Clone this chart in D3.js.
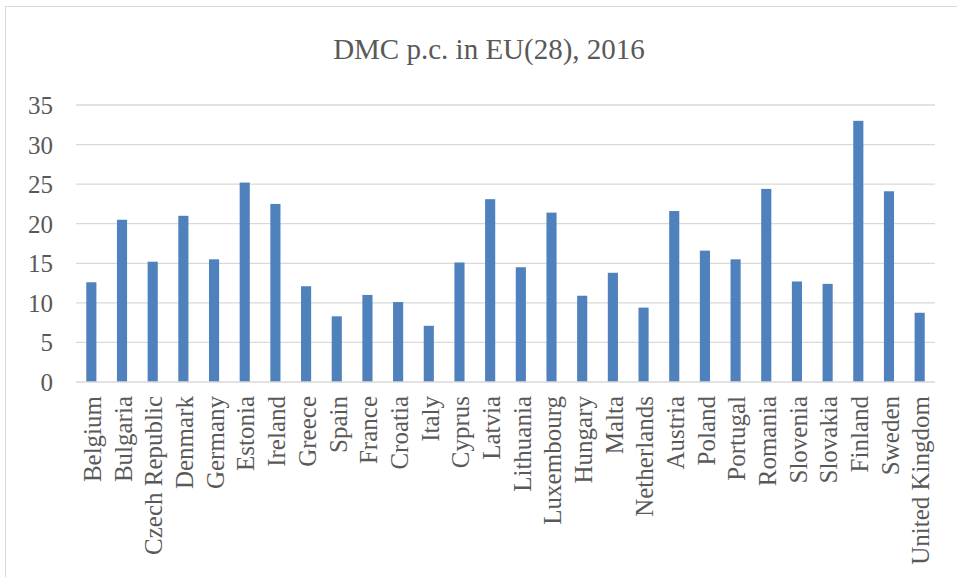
<!DOCTYPE html>
<html><head><meta charset="utf-8">
<script src="https://cdn.jsdelivr.net/npm/d3@7"></script>
<style>body{margin:0;background:#fff;} svg{display:block;}</style>
</head><body><svg id="c" width="957" height="577"></svg>
<script>
const categories = ["Belgium","Bulgaria","Czech Republic","Denmark","Germany","Estonia","Ireland","Greece","Spain","France","Croatia","Italy","Cyprus","Latvia","Lithuania","Luxembourg","Hungary","Malta","Netherlands","Austria","Poland","Portugal","Romania","Slovenia","Slovakia","Finland","Sweden","United Kingdom"];
const values = [12.6,20.5,15.2,21.0,15.5,25.2,22.5,12.1,8.3,11.0,10.1,7.1,15.1,23.1,14.5,21.4,10.9,13.8,9.4,21.6,16.6,15.5,24.4,12.7,12.4,33.0,24.1,8.75];
const yTicks = [0,5,10,15,20,25,30,35];
const title = "DMC p.c. in EU(28), 2016";

const svg = d3.select("#c");
const font = "'Liberation Serif', 'Times New Roman', serif";
const m = {left:76, right:22, top:105, bottom:195};
const W = 957, H = 577;

svg.append("rect").attr("x",5.5).attr("y",6.5).attr("width",W).attr("height",H)
  .attr("fill","#fff").attr("stroke","#d9d9d9").attr("stroke-width",1);

const x = d3.scaleBand().domain(categories).range([m.left, W-m.right]).paddingInner(0.67).paddingOuter(0.335);
const y = d3.scaleLinear().domain([0,35]).range([H-m.bottom, m.top]);

const grid = svg.append("g");
grid.selectAll("line").data(yTicks.filter(d=>d>0)).join("line")
  .attr("x1",m.left).attr("x2",W-m.right)
  .attr("y1",d=>y(d)).attr("y2",d=>y(d))
  .attr("stroke","#d9d9d9").attr("stroke-width",1.3);

svg.append("g").selectAll("rect").data(values).join("rect")
  .attr("x",(d,i)=>x(categories[i]))
  .attr("width",x.bandwidth())
  .attr("y",d=>y(d))
  .attr("height",d=>y(0)-y(d))
  .attr("fill","#4f81bd");

svg.append("line").attr("x1",m.left).attr("x2",W-m.right)
  .attr("y1",y(0)).attr("y2",y(0)).attr("stroke","#d9d9d9").attr("stroke-width",1.3);

const yAxis = svg.append("g").attr("transform",`translate(${m.left-23},0)`)
  .call(d3.axisLeft(y).tickValues(yTicks).tickSize(0).tickPadding(0));
yAxis.select(".domain").remove();
yAxis.selectAll("text").attr("font-family",font).attr("font-size",25).attr("fill","#595959").attr("dy","0.34em");

const xAxis = svg.append("g").attr("transform",`translate(0,${y(0)})`)
  .call(d3.axisBottom(x).tickSize(0).tickPadding(0));
xAxis.select(".domain").remove();
xAxis.selectAll("text")
  .attr("font-family",font).attr("font-size",25).attr("fill","#595959")
  .attr("text-anchor","end")
  .attr("transform","translate(1,14) rotate(-90)")
  .attr("x",0).attr("y",0).attr("dy","0.35em");

svg.append("text").attr("x",489).attr("y",59).attr("text-anchor","middle")
  .attr("font-family",font).attr("font-size",29).attr("fill","#595959").text(title);
</script></body></html>
